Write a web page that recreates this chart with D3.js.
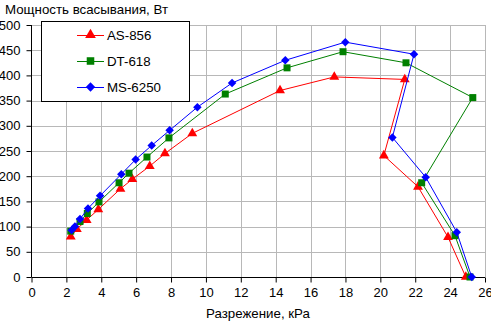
<!DOCTYPE html>
<html><head><meta charset="utf-8">
<script src="https://cdn.jsdelivr.net/npm/d3@7"></script>
<style>body{margin:0;background:#fff}svg{display:block;font-family:"Liberation Sans",Arial,sans-serif}</style>
</head><body>
<svg id="c" width="491" height="325"></svg>
<script>
const seriesNames = ["AS-856", "DT-618", "MS-6250"];
const colors = ["#FF0000", "#008000", "#0000FF"];
const symbols = ["triangle", "square", "diamond"];
const as856X = [2.25, 2.6, 3.16, 3.83, 5.1, 5.78, 6.78, 7.65, 9.22, 14.25, 17.36, 21.4, 20.2, 22.16, 23.88, 24.9];
const as856Y = [80, 95, 113, 134, 175, 194, 220, 245, 285, 370, 397, 392, 241, 179, 79, 0];
const dt618X = [2.25, 2.78, 3.2, 3.87, 5.02, 5.59, 6.62, 7.88, 11.11, 14.65, 17.86, 21.47, 25.3, 22.37, 24.28, 25.14];
const dt618Y = [91, 110, 126, 149, 187, 206, 238, 276, 363, 415, 447, 425, 356, 187, 82, 0];
const ms6250X = [2.3, 2.49, 2.78, 3.24, 3.93, 5.15, 5.97, 6.89, 7.92, 9.51, 11.5, 14.55, 17.99, 21.93, 20.69, 22.6, 24.38, 25.24];
const ms6250Y = [93, 100, 115, 136, 161, 204, 233, 261, 291, 337, 385, 430, 466, 442, 277, 198, 89, 0];
const xTicks = [0, 2, 4, 6, 8, 10, 12, 14, 16, 18, 20, 22, 24, 26];
const yTicks = [0, 50, 100, 150, 200, 250, 300, 350, 400, 450, 500];
const yTitle = "Мощность всасывания, Вт";
const xTitle = "Разрежение, кРа";

const seriesX = [as856X, dt618X, ms6250X];
const seriesY = [as856Y, dt618Y, ms6250Y];

const svg = d3.select("#c");
const L = 31.5, R = 485, T = 25, B = 277;
const x = d3.scaleLinear().domain([0, 26]).range([L, R]);
const y = d3.scaleLinear().domain([0, 500]).range([B, T]);

// gridlines
svg.append("g").selectAll("line.v").data(xTicks.slice(1)).join("line")
  .attr("x1", d => Math.round(x(d)) + 0.5).attr("x2", d => Math.round(x(d)) + 0.5)
  .attr("y1", T).attr("y2", B).attr("stroke", "#b8b8b8").attr("stroke-width", 1);
svg.append("g").selectAll("line.h").data(yTicks.slice(1)).join("line")
  .attr("y1", d => Math.round(y(d)) + 0.5).attr("y2", d => Math.round(y(d)) + 0.5)
  .attr("x1", L).attr("x2", R).attr("stroke", "#b8b8b8").attr("stroke-width", 1);

// axes
const xAxis = d3.axisBottom(x).tickValues(xTicks).tickSize(5).tickPadding(5).tickFormat(d3.format("d"));
const yAxis = d3.axisLeft(y).tickValues(yTicks).tickSize(5).tickPadding(6).tickFormat(d3.format("d"));
const gx = svg.append("g").attr("transform", `translate(0,${Math.round(B)+0.5})`).call(xAxis);
const gy = svg.append("g").attr("transform", `translate(${Math.floor(L)+0.5},0)`).call(yAxis);
[gx, gy].forEach(g => {
  g.select(".domain").attr("stroke", "#000");
  g.selectAll(".tick line").attr("stroke", "#000");
  g.selectAll("text").attr("fill", "#000").style("font-size", "13px").style("font-family", '"Liberation Sans",Arial,sans-serif');
});
gx.select(".domain").attr("d", `M${L},0H${R}`);
gy.select(".domain").attr("d", `M0,${B}V${T}`);

// titles
svg.append("text").attr("x", 5).attr("y", 14).text(yTitle).style("font-size", "13.3px");
svg.append("text").attr("x", 258).attr("y", 318).attr("text-anchor", "middle").text(xTitle).style("font-size", "13.3px");

// series
const symMap = {triangle: d3.symbolTriangle, square: d3.symbolSquare, diamond: d3.symbolSquare};
const symSize = {triangle: 42, square: 49, diamond: 36};
const symRot = {triangle: 0, square: 0, diamond: 45};
const line = d3.line().x(d => x(d[0])).y(d => y(d[1]));
seriesNames.forEach((name, i) => {
  const pts = seriesX[i].map((v, j) => [v, seriesY[i][j]]);
  const s = symbols[i];
  svg.append("path").datum(pts).attr("d", line).attr("fill", "none").attr("stroke", colors[i]).attr("stroke-width", 1);
  svg.append("g").selectAll("path").data(pts).join("path")
    .attr("transform", d => `translate(${x(d[0])},${y(d[1])}) rotate(${symRot[s]})`)
    .attr("d", d3.symbol(symMap[s], symSize[s]))
    .attr("fill", colors[i]);
});

// legend
const lg = svg.append("g");
lg.append("rect").attr("x", 41.5).attr("y", 21.5).attr("width", 148).attr("height", 80).attr("fill", "#fff").attr("stroke", "#000");
seriesNames.forEach((name, i) => {
  const ly = 35 + i * 26;
  const s = symbols[i];
  lg.append("line").attr("x1", 77).attr("x2", 104).attr("y1", ly + 0.5).attr("y2", ly + 0.5).attr("stroke", colors[i]);
  lg.append("path").attr("transform", `translate(90.5,${ly}) rotate(${symRot[s]})`).attr("d", d3.symbol(symMap[s], symSize[s] + 8)).attr("fill", colors[i]);
  lg.append("text").attr("x", 107).attr("y", ly + 5).text(name).style("font-size", "13.3px");
});
</script>
</body></html>
